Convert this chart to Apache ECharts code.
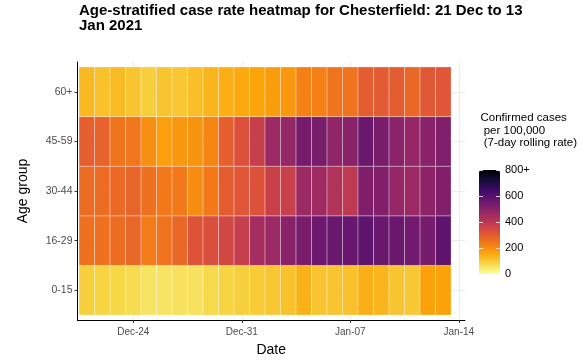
<!DOCTYPE html>
<html>
<head>
<meta charset="utf-8">
<script src="https://cdn.jsdelivr.net/npm/echarts@6/dist/echarts.min.js"></script>
<style>html,body{margin:0;padding:0;background:#fff}#c{width:583px;height:362px}</style>
</head>
<body>
<div id="c"></div>
<script>
const dates = ['2020-12-21','2020-12-22','2020-12-23','2020-12-24','2020-12-25','2020-12-26','2020-12-27','2020-12-28','2020-12-29','2020-12-30','2020-12-31','2021-01-01','2021-01-02','2021-01-03','2021-01-04','2021-01-05','2021-01-06','2021-01-07','2021-01-08','2021-01-09','2021-01-10','2021-01-11','2021-01-12','2021-01-13'];
const ageGroups = ['0-15','16-29','30-44','45-59','60+'];
const age0_15  = [95,85,80,70,55,55,60,60,75,85,95,100,105,115,140,110,110,115,145,135,110,105,165,165];
const age16_29 = [255,255,265,275,235,250,275,315,330,350,375,445,465,500,530,555,560,565,585,560,560,545,535,585];
const age30_44 = [265,265,270,280,255,240,240,205,240,295,310,320,370,370,465,455,420,395,520,515,475,465,490,515];
const age45_59 = [290,285,250,245,200,170,185,190,215,290,320,375,465,475,535,530,485,500,560,530,495,475,500,515];
const age60p   = [130,115,125,110,95,110,105,120,135,145,155,160,175,185,225,225,250,250,295,300,295,275,305,310];
const tickDates = ['2020-12-24','2020-12-31','2021-01-07','2021-01-14'];
const tickLabels = ['Dec-24','Dec-31','Jan-07','Jan-14'];
const legendTicks = [0,200,400,600,800];
const legendLabels = ['0','200','400','600','800+'];

const rows = [age0_15, age16_29, age30_44, age45_59, age60p];
const day0 = Date.parse(dates[0]);
const dayIdx = d => Math.round((Date.parse(d) - day0) / 86400000);
const data = [];
rows.forEach((r, yi) => r.forEach((v, xi) => data.push([dayIdx(dates[xi]), yi, v])));
const tickPos = tickDates.map(dayIdx);

const inferno = ['#000004','#160b39','#420a68','#6a176e','#932667','#bc3754','#dd513a','#f37819','#fca50a','#f6d746','#fcffa4'];
const FONT = '"Liberation Sans", Arial, sans-serif';

const chart = echarts.init(document.getElementById('c'), null, {renderer: 'canvas'});
chart.setOption({
  animation: false,
  backgroundColor: '#fff',
  textStyle: {fontFamily: FONT},
  title: [{
    text: 'Age-stratified case rate heatmap for Chesterfield: 21 Dec to 13\nJan 2021',
    left: 79, top: 3, padding: 0,
    textStyle: {fontFamily: FONT, fontSize: 15, fontWeight: 'bold', color: '#000', lineHeight: 15}
  }, {
    text: 'Confirmed cases\n per 100,000\n (7-day rolling rate)',
    left: 480.5, top: 112, padding: 0,
    textStyle: {fontFamily: FONT, fontSize: 11.5, fontWeight: 'normal', color: '#000', lineHeight: 12.5}
  }],
  grid: [
    {left: 77.5, right: 118, top: 62, bottom: 39},
    {left: 479, top: 170, width: 21, height: 104}
  ],
  xAxis: [{
    type: 'value', gridIndex: 0, min: -0.6, max: 24.4,
    name: 'Date', nameLocation: 'middle', nameGap: 23,
    nameTextStyle: {fontSize: 14, color: '#000', fontFamily: FONT},
    axisLine: {show: true, onZero: false, lineStyle: {color: '#000', width: 1}},
    axisTick: {show: true, length: 3, customValues: tickPos, lineStyle: {color: '#333'}},
    axisLabel: {customValues: tickPos, fontSize: 10, color: '#4d4d4d', margin: 7,
      formatter: v => tickLabels[tickPos.indexOf(v)] || ''},
    splitLine: {show: true, lineStyle: {color: '#ebebeb', width: 1}}
  }, {
    type: 'value', gridIndex: 1, min: 0, max: 1, show: false
  }],
  yAxis: [{
    type: 'value', gridIndex: 0, min: -0.6, max: 4.6,
    name: 'Age group', nameLocation: 'middle', nameGap: 47, nameRotate: 90,
    nameTextStyle: {fontSize: 14, color: '#000', fontFamily: FONT},
    axisLine: {show: true, onZero: false, lineStyle: {color: '#000', width: 1}},
    axisTick: {show: true, length: 3, customValues: [0,1,2,3,4], lineStyle: {color: '#333'}},
    axisLabel: {customValues: [0,1,2,3,4], fontSize: 10.5, color: '#4d4d4d', margin: 5,
      formatter: v => ageGroups[v] || ''},
    splitLine: {show: true, lineStyle: {color: '#ebebeb', width: 1}}
  }, {
    type: 'value', gridIndex: 1, min: 0, max: 800, position: 'right',
    axisLine: {show: false, onZero: false},
    axisTick: {show: true, inside: true, length: 4, customValues: legendTicks, lineStyle: {color: 'rgba(255,255,255,0.8)'}},
    axisLabel: {customValues: legendTicks, fontSize: 11, color: '#000', margin: 5,
      formatter: v => legendLabels[legendTicks.indexOf(v)]},
    splitLine: {show: false}, z: 10
  }, {
    type: 'value', gridIndex: 1, min: 0, max: 800, position: 'left',
    axisLine: {show: false, onZero: false},
    axisTick: {show: true, inside: true, length: 4, customValues: legendTicks, lineStyle: {color: 'rgba(255,255,255,0.8)'}},
    axisLabel: {show: false}, splitLine: {show: false}, z: 10
  }],
  visualMap: {
    type: 'continuous', min: 0, max: 800, dimension: 2, seriesIndex: 0,
    calculable: false, realtime: false, text: null, showLabel: false,
    orient: 'vertical', left: 479, top: 170, itemWidth: 21, itemHeight: 104, padding: 0,
    inRange: {color: inferno.slice().reverse()}
  },
  series: [{
    type: 'custom', xAxisIndex: 0, yAxisIndex: 0,
    data: data,
    encode: {x: 0, y: 1},
    renderItem: (params, api) => {
      const x = api.value(0), y = api.value(1);
      const p0 = api.coord([x - 0.5, y + 0.5]);
      const p1 = api.coord([x + 0.5, y - 0.5]);
      return {
        type: 'rect',
        shape: {x: p0[0], y: p0[1], width: p1[0] - p0[0], height: p1[1] - p0[1]},
        style: {fill: api.visual('color'), stroke: 'rgba(255,255,255,0.3)', lineWidth: 1}
      };
    }
  }]
});
</script>
</body>
</html>
